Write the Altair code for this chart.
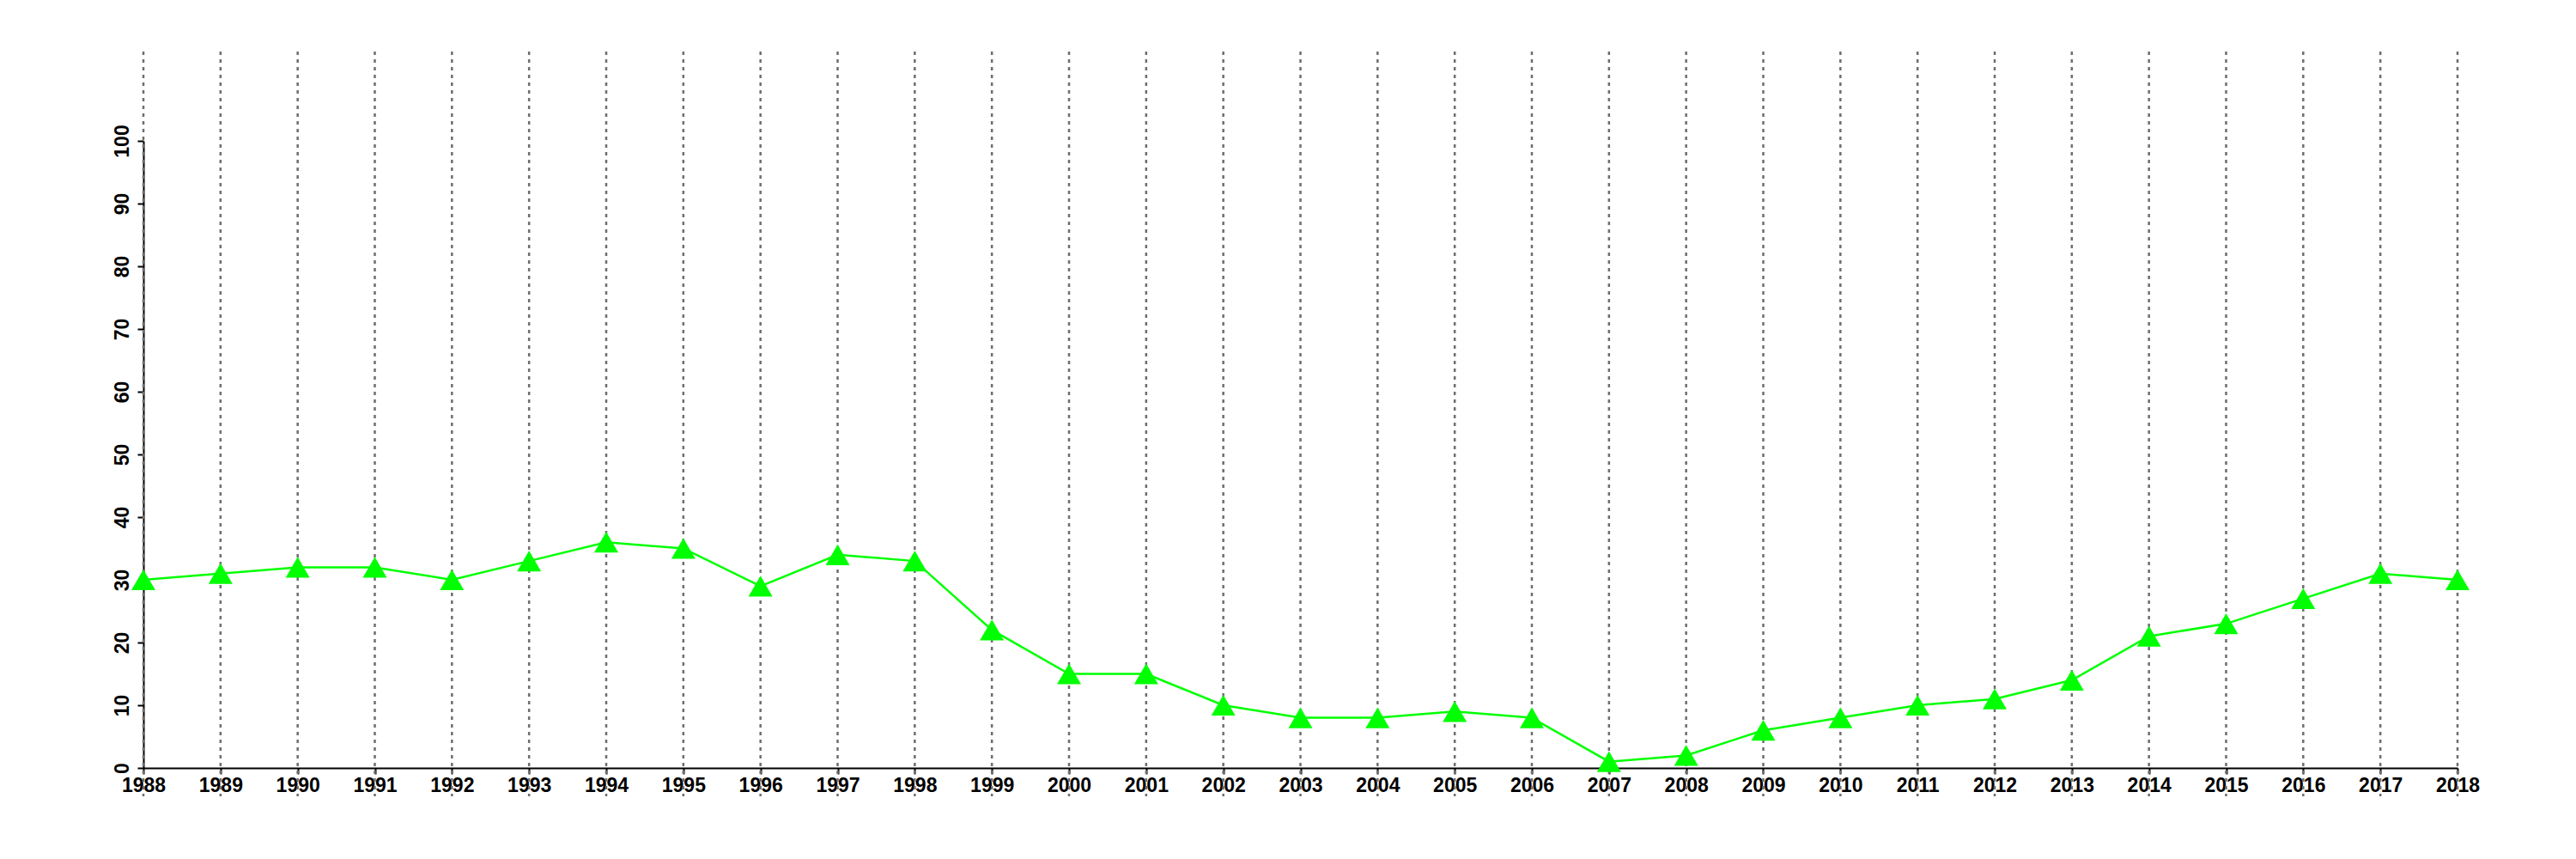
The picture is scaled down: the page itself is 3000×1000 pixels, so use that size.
import altair as alt
import pandas as pd

years = list(range(1988, 2019))
values = [30, 31, 32, 32, 30, 33, 36, 35, 29, 34, 33, 22, 15, 15, 10, 8, 8, 9, 8, 1,
          2, 6, 8, 10, 11, 14, 21, 23, 27, 31, 30]
y_ticks = list(range(0, 101, 10))

df = pd.DataFrame({"year": years, "value": values})

W, H = 2695, 730
FONT = "Liberation Sans"

x_scale = alt.Scale(domain=[1988, 2018], nice=False, zero=False)
y_scale = alt.Scale(domain=[0, 100], nice=False)

x_axis = alt.Axis(values=years, format="d", title=None, grid=False,
                  domainColor="black", domainWidth=2,
                  tickColor="black", tickWidth=2, tickSize=7,
                  labelFont=FONT, labelFontSize=23, labelFontWeight="bold",
                  labelColor="black", labelPadding=2, labelFlush=False,
                  labelOverlap=False)
y_axis = alt.Axis(values=y_ticks, title=None, grid=False,
                  domainColor="black", domainWidth=2,
                  tickColor="black", tickWidth=2, tickSize=7,
                  labelFont=FONT, labelFontSize=23, labelFontWeight="bold",
                  labelColor="black", labelAngle=270, labelPadding=6,
                  labelFlush=False, labelOverlap=False)

x_enc = alt.X("year:Q", scale=x_scale, axis=x_axis)
y_enc = alt.Y("value:Q", scale=y_scale, axis=y_axis)

grid = alt.Chart(df).mark_rule(color="#6e6e6e", strokeWidth=2.5, strokeDash=[4, 5]).encode(
    x=x_enc,
    y=alt.value(-104),
    y2=alt.value(H + 33),
)

line = alt.Chart(df).mark_line(color="#00FF00", strokeWidth=2.5).encode(x=x_enc, y=y_enc)

points = alt.Chart(df).mark_point(shape="triangle-up", filled=True, color="#00FF00",
                                  size=784, opacity=1).encode(x=x_enc, y=y_enc)

chart = alt.layer(grid, line, points).properties(
    width=W, height=H,
    background="white",
    autosize=alt.AutoSizeParams(type="none"),
    padding={"left": 159, "top": 156, "right": 130, "bottom": 100},
).configure_view(stroke=None, strokeWidth=0).configure_axis(grid=False)

chart.save("out.html", embed_options={"renderer": "svg", "actions": False})
